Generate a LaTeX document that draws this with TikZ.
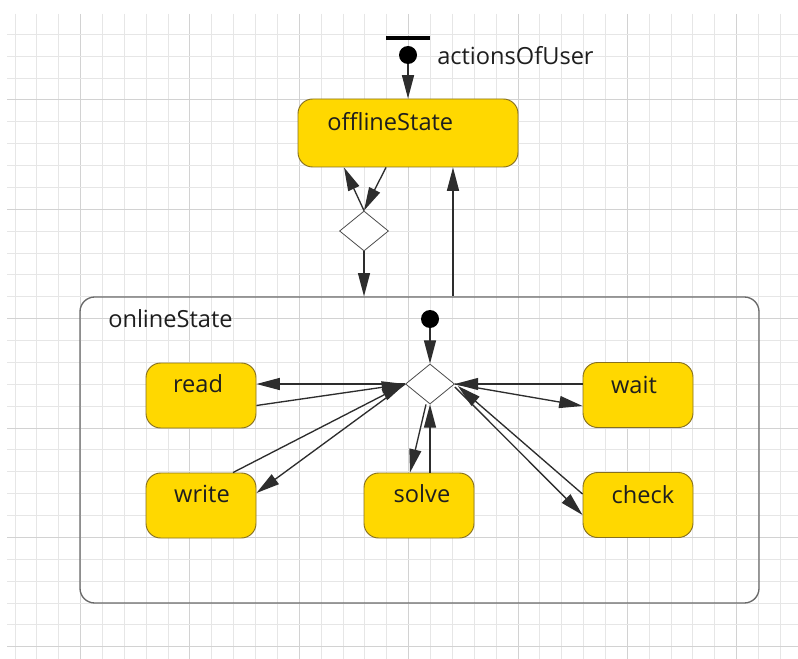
\documentclass[tikz,border=0pt]{standalone}
\usepackage{fontspec}
\setmainfont{Open Sans}
\usetikzlibrary{arrows.meta,shapes.geometric,calc}
\definecolor{gold}{RGB}{255,216,0}
\definecolor{goldborder}{RGB}{135,112,30}
\definecolor{gridlight}{RGB}{230,230,230}
\definecolor{griddark}{RGB}{210,210,210}
\definecolor{linec}{RGB}{45,45,45}
\definecolor{textc}{RGB}{30,30,30}
\definecolor{framec}{RGB}{105,105,105}
\begin{document}
\begin{tikzpicture}[x=0.75pt,y=-0.75pt,
  statebox/.style={draw=goldborder, fill=gold, rounded corners=11pt, minimum width=82.5pt, minimum height=48.75pt, line width=0.7pt, inner sep=0pt},
  lbl/.style={font=\fontsize{17.7}{20}\selectfont, text=textc, inner sep=0pt},
  choice/.style={diamond, draw=linec!85, fill=white, minimum width=36.75pt, minimum height=30pt, inner sep=0pt, line width=0.6pt},
  arr/.style={draw=linec, line width=1pt, -{Triangle[length=17.5pt,width=9pt]}},
  dot/.style={circle, fill=black, minimum size=13.5pt, inner sep=0pt},
  gl/.style={draw=gridlight, line width=0.75pt},
  gd/.style={draw=griddark, line width=0.75pt}
]
\useasboundingbox (0,0) rectangle (798,659);
\fill[white] (0,0) rectangle (798,659);
% grid
\foreach \k in {0,...,35} {
  \pgfmathsetmacro\xx{15+21.87*\k}
  \pgfmathtruncatemacro\m{mod(\k+2,5)}
  \ifnum\m=0 \draw[gd] (\xx,14) -- (\xx,659); \else \draw[gl] (\xx,14) -- (\xx,659); \fi
}
\foreach \k in {-3,...,25} {
  \pgfmathsetmacro\yy{100+21.87*\k}
  \pgfmathtruncatemacro\m{mod(\k+5,5)}
  \ifnum\m=0 \draw[gd] (7,\yy) -- (798,\yy); \else \draw[gl] (7,\yy) -- (798,\yy); \fi
}

% top part
\node (bar) [fill=black, minimum width=33pt, minimum height=2.3pt, inner sep=0pt] at (408,38) {};
\node (init1) [dot] at (408,55) {};
\node (actlbl) [lbl, anchor=base west] at (437,65) {actionsOfUser};
\node (off) [statebox, minimum width=165pt, minimum height=51pt] at (408,133) {};
\node (offlbl) [lbl, anchor=base west] at (327,131) {offlineState};
\node (d1) [choice] at (364,231) {};

% container
\node (online) [draw=framec, line width=1pt, rounded corners=11pt, minimum width=509.25pt, minimum height=229.5pt, inner sep=0pt] at (419.5,450) {};
\node (onlbl) [lbl, anchor=base west] at (108,327) {onlineState};
\node (init2) [dot] at (430,319) {};
\node (d2) [choice] at (430,384) {};

% states
\node (read) [statebox] at (201,395.5) {};
\node (write) [statebox] at (201,505.5) {};
\node (solve) [statebox] at (419,505.5) {};
\node (wait) [statebox] at (638,395) {};
\node (check) [statebox] at (638,505) {};
\node (readlbl) [lbl, anchor=base] at (198,392) {read};
\node (writelbl) [lbl, anchor=base] at (202,502) {write};
\node (solvelbl) [lbl, anchor=base] at (422,502) {solve};
\node (waitlbl) [lbl, anchor=base] at (634,393) {wait};
\node (checklbl) [lbl, anchor=base] at (643,503) {check};

% connectors top
\draw[arr] (init1) -- (off.north);
\draw[arr] ($(off.south)+(-22,0)$) -- (d1.north);
\draw[arr] (d1.north) -- ($(off.south)+(-64,0)$);
\draw[arr] (d1.south) -- (d1.south |- online.north);
\coordinate (upx) at ($(off.south)+(45,0)$);
\draw[arr] (upx |- online.north) -- (upx);

% connectors inside
\draw[arr] (init2) -- (d2.north);
\draw[arr] (d2.west) -- (d2.west -| read.east);
\draw[arr] ($(read.east)+(0,10)$) -- (d2.west);
\draw[arr] ($(write.north)+(32,0)$) -- (d2.west);
\draw[arr] (d2.west) -- ($(write.east)+(0,-12.5)$);
\draw[arr] ($(d2.south)+(-4,0)$) -- ($(solve.north)+(-9,0)$);
\draw[arr] (d2.south |- solve.north) -- (d2.south);
\draw[arr] (wait.west |- d2.east) -- (d2.east);
\draw[arr] (d2.east) -- ($(wait.west)+(0,11)$);
\draw[arr] ($(check.west)+(0,-11)$) -- ($(d2.east)+(3,2)$);
\draw[arr] ($(d2.east)+(0,3)$) -- ($(check.west)+(0,10)$);
\end{tikzpicture}
\end{document}
